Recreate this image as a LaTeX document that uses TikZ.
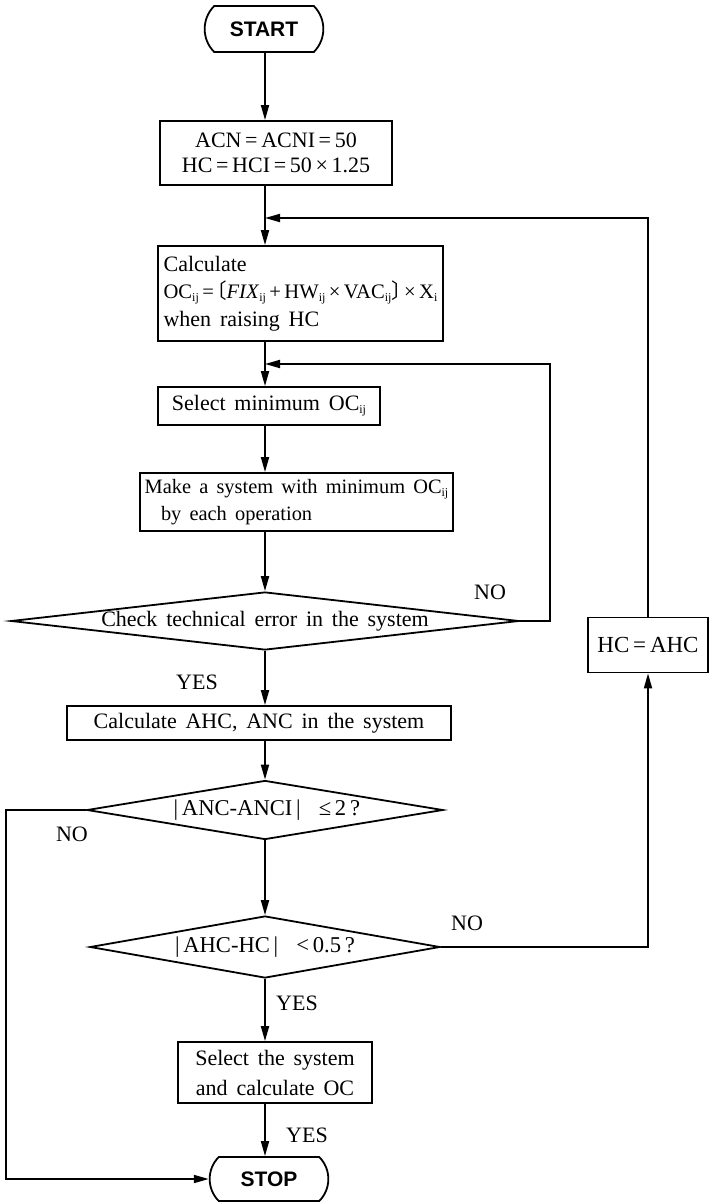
\documentclass[tikz,border=0pt]{standalone}
\usepackage{fontspec}
\setmainfont[WordSpace=1.6]{Liberation Serif}
\newfontfamily\headfont{Liberation Sans}
\newfontfamily\cjk{Noto Sans CJK SC}
\usetikzlibrary{arrows.meta,shapes.geometric,shapes.misc}
\newcommand\lsub[1]{\raisebox{-0.3ex}{\fontsize{6}{6}\selectfont #1}}
\newcommand\lbrk{\mbox{\cjk\hspace{-0.55em}〔}}
\newcommand\rbrk{\mbox{\cjk〕\hspace{-0.55em}}}
\begin{document}
\begin{tikzpicture}[x=0.5pt,y=-0.5pt,
  line width=0.9pt,
  box/.style={draw, rectangle, inner sep=2pt},
  term/.style={draw, rounded rectangle, rounded rectangle arc length=90,
    minimum width=66pt, minimum height=23pt,
    font=\headfont\bfseries\fontsize{10.5}{12}\selectfont},
  dec/.style={draw, diamond, inner sep=0pt, font=\fontsize{11.3}{13}\selectfont},
  arr/.style={-{Triangle[length=7.5pt,width=4pt]}},
  lab/.style={font=\fontsize{11}{13}\selectfont, inner sep=1pt}
]
\useasboundingbox (0,0) rectangle (718,1204);
\coordinate (ax) at (265,0);
\coordinate (j1) at (265,218);
\coordinate (j2) at (265,364);

\node[term] (start) at (264,29) {START};
\node[box, minimum width=116pt, minimum height=32pt, align=center,
  font=\fontsize{11}{12.5}\selectfont] (init) at (276,153)
  {ACN\,=\,ACNI\,=\,50\\HC\,=\,HCI\,=\,50\,×\,1.25};
\node[box, minimum width=142.5pt, minimum height=47.5pt, align=left,
  font=\fontsize{11}{13.75}\selectfont] (calc) at (300.5,293.5)
  {Calculate\\{\fontsize{10.3}{12}\selectfont OC\lsub{ij}\,=\,\lbrk\textit{FIX}\lsub{ij}\,+\,HW\lsub{ij}\,×\,VAC\lsub{ij}\rbrk\,×\,X\lsub{i}}\\when raising HC};
\node[box, minimum width=111pt, minimum height=19pt,
  font=\fontsize{11}{12}\selectfont] (selmin) at (269,406) {Select minimum OC\lsub{ij}};
\node[box, minimum width=156.5pt, minimum height=29pt, align=left,
  font=\fontsize{10.2}{13.5}\selectfont] (make) at (296.5,502)
  {Make a system with minimum OC\lsub{ij}\\\hspace*{0.8em}by each operation};
\node[dec, aspect=8.76, minimum width=254pt, minimum height=29pt,
  font=\fontsize{11}{13}\selectfont] (check) at (265,621)
  {Check technical error in the system};
\node[box, minimum width=192pt, minimum height=17pt,
  font=\fontsize{11}{12}\selectfont] (calcahc) at (259,723)
  {Calculate AHC, ANC in the system};
\node[dec, aspect=6.03, minimum width=178pt, minimum height=29.5pt] (anc) at (265,810)
  {\,|\,ANC-ANCI\,|\ \ ≤\,2\,?};
\node[dec, aspect=5.65, minimum width=175pt, minimum height=31pt] (ahc) at (265,947)
  {|\,AHC-HC\,|\ \ <\,0.5\,?};
\node[box, minimum width=60pt, minimum height=27.5pt,
  font=\fontsize{11.5}{12}\selectfont] (hcahc) at (648,645) {HC\,=\,AHC};
\node[box, minimum width=97pt, minimum height=30.5pt, align=center,
  font=\fontsize{11}{15}\selectfont] (selsys) at (275,1072.5)
  {Select the system\\and calculate OC};
\node[term, minimum height=22pt] (stop) at (269,1179) {STOP};

\draw[arr] (start.south -| ax) -- (init.north -| ax);
\draw[arr] (init.south -| ax) -- (calc.north -| ax);
\draw[arr] (calc.south -| ax) -- (selmin.north -| ax);
\draw[arr] (selmin.south -| ax) -- (make.north -| ax);
\draw[arr] (make.south -| ax) -- (check.north);
\draw[arr] (check.south) -- (calcahc.north -| ax);
\draw[arr] (calcahc.south -| ax) -- (anc.north);
\draw[arr] (anc.south) -- (ahc.north);
\draw[arr] (ahc.south) -- (selsys.north -| ax);
\draw[arr] (selsys.south -| ax) -- (stop.north -| ax);

\draw[arr] (hcahc.north) |- (j1);
\draw[arr] (ahc.east) -| (hcahc.south);
\draw[arr] (check.east) -- ++(30,0) |- (j2);
\draw[arr] (anc.west) -- ++(-80,0) |- (stop.west);

\node[lab] (nocheck) at (490,592) {NO};
\node[lab] (yescheck) at (197,682) {YES};
\node[lab] (noanc) at (72,834) {NO};
\node[lab] (noahc) at (467,923) {NO};
\node[lab] (yesahc) at (297,1003) {YES};
\node[lab] (yessel) at (307,1135) {YES};
\end{tikzpicture}
\end{document}
